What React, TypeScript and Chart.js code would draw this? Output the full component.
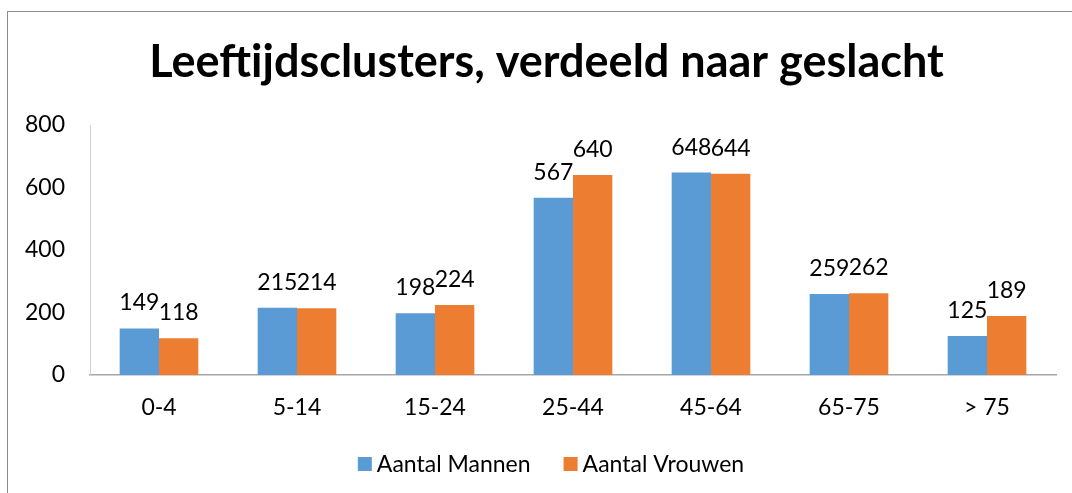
import React, { useEffect, useRef } from "react";
import { Chart, registerables } from "chart.js";

Chart.register(...registerables);

const categories = ["0-4", "5-14", "15-24", "25-44", "45-64", "65-75", "> 75"];
const mannen = [149, 215, 198, 567, 648, 259, 125];
const vrouwen = [118, 214, 224, 640, 644, 262, 189];
const seriesNames = ["Aantal Mannen", "Aantal Vrouwen"];
const seriesColors = ["#5B9BD5", "#ED7D31"];
const yTicks = [0, 200, 400, 600, 800];
const chartTitle = "Leeftijdsclusters, verdeeld naar geslacht";

const FONT = "Lato, 'Open Sans', sans-serif";
const W = 1072;
const H = 493;
const TXT = 23;

const valueLabels = {
  id: "valueLabels",
  afterDatasetsDraw(chart: any) {
    const ctx = chart.ctx;
    ctx.save();
    ctx.font = `${TXT}px ${FONT}`;
    ctx.fillStyle = "#000";
    ctx.textAlign = "center";
    ctx.textBaseline = "alphabetic";
    chart.data.datasets.forEach((ds: any, i: number) => {
      const meta = chart.getDatasetMeta(i);
      meta.data.forEach((bar: any, j: number) => {
        ctx.fillText(String(ds.data[j]), bar.x, bar.y - 18);
      });
    });
    ctx.restore();
  },
};

const frameTitle = {
  id: "frameTitle",
  afterDraw(chart: any) {
    const ctx = chart.ctx;
    ctx.save();
    ctx.font = `bold 45px ${FONT}`;
    ctx.fillStyle = "#000";
    ctx.textAlign = "center";
    ctx.textBaseline = "alphabetic";
    ctx.fillText(chartTitle, 546.5, 77);
    ctx.restore();
  },
};

const customLegend = {
  id: "customLegend",
  afterDraw(chart: any) {
    const ctx = chart.ctx;
    ctx.save();
    ctx.font = `${TXT}px ${FONT}`;
    ctx.textBaseline = "middle";
    ctx.textAlign = "left";
    const box = 14;
    const gapBoxText = 5;
    const gapItems = 33;
    const items = chart.data.datasets.map((ds: any) => ({
      label: ds.label,
      color: ds.backgroundColor,
      w: box + gapBoxText + ctx.measureText(ds.label).width,
    }));
    const total = items.reduce((s: number, it: any) => s + it.w, 0) + gapItems * (items.length - 1);
    let x = 551 - total / 2;
    const cy = 464;
    items.forEach((it: any) => {
      ctx.fillStyle = it.color;
      ctx.fillRect(x, cy - box / 2, box, box);
      ctx.fillStyle = "#000";
      ctx.fillText(it.label, x + box + gapBoxText, cy + 1);
      x += it.w + gapItems;
    });
    ctx.restore();
  },
};

export default function App() {
  const canvasRef = useRef<HTMLCanvasElement | null>(null);

  useEffect(() => {
    if (!canvasRef.current) return;
    const chart = new Chart(canvasRef.current, {
      type: "bar",
      data: {
        labels: categories,
        datasets: [
          { label: seriesNames[0], data: mannen, backgroundColor: seriesColors[0], borderWidth: 0 },
          { label: seriesNames[1], data: vrouwen, backgroundColor: seriesColors[1], borderWidth: 0 },
        ],
      },
      options: {
        responsive: false,
        animation: false,
        devicePixelRatio: 1,
        layout: { padding: { left: 0, right: 16, top: 125, bottom: 0 } },
        datasets: { bar: { categoryPercentage: 0.57, barPercentage: 1 } },
        plugins: {
          legend: { display: false },
          tooltip: { enabled: false },
          title: { display: false },
        },
        scales: {
          x: {
            grid: { display: false, drawTicks: false },
            border: { display: true, color: "#A6A6A6", width: 1.5 },
            ticks: { color: "#000", font: { family: FONT, size: TXT }, padding: 19 },
            afterFit(scale: any) {
              scale.height = 118;
            },
          },
          y: {
            min: 0,
            max: 800,
            afterBuildTicks(scale: any) {
              scale.ticks = yTicks.map((v) => ({ value: v }));
            },
            grid: { display: false, drawTicks: false },
            border: { display: true, color: "#D0D0D0", width: 1 },
            ticks: { color: "#000", font: { family: FONT, size: TXT }, padding: 25 },
            afterFit(scale: any) {
              scale.width = 90;
            },
          },
        },
      },
      plugins: [valueLabels, frameTitle, customLegend],
    });
    return () => chart.destroy();
  }, []);

  return (
    <div style={{ position: "fixed", left: 0, top: 0, width: W, height: H, overflow: "hidden", background: "#fff" }}>
      <div
        style={{
          position: "absolute",
          left: 7,
          top: 11,
          width: 1200,
          height: 600,
          border: "1px solid #8C8C8C",
        }}
      />
      <canvas ref={canvasRef} width={W} height={H} style={{ position: "absolute", left: 0, top: 0, width: W, height: H }} />
    </div>
  );
}
